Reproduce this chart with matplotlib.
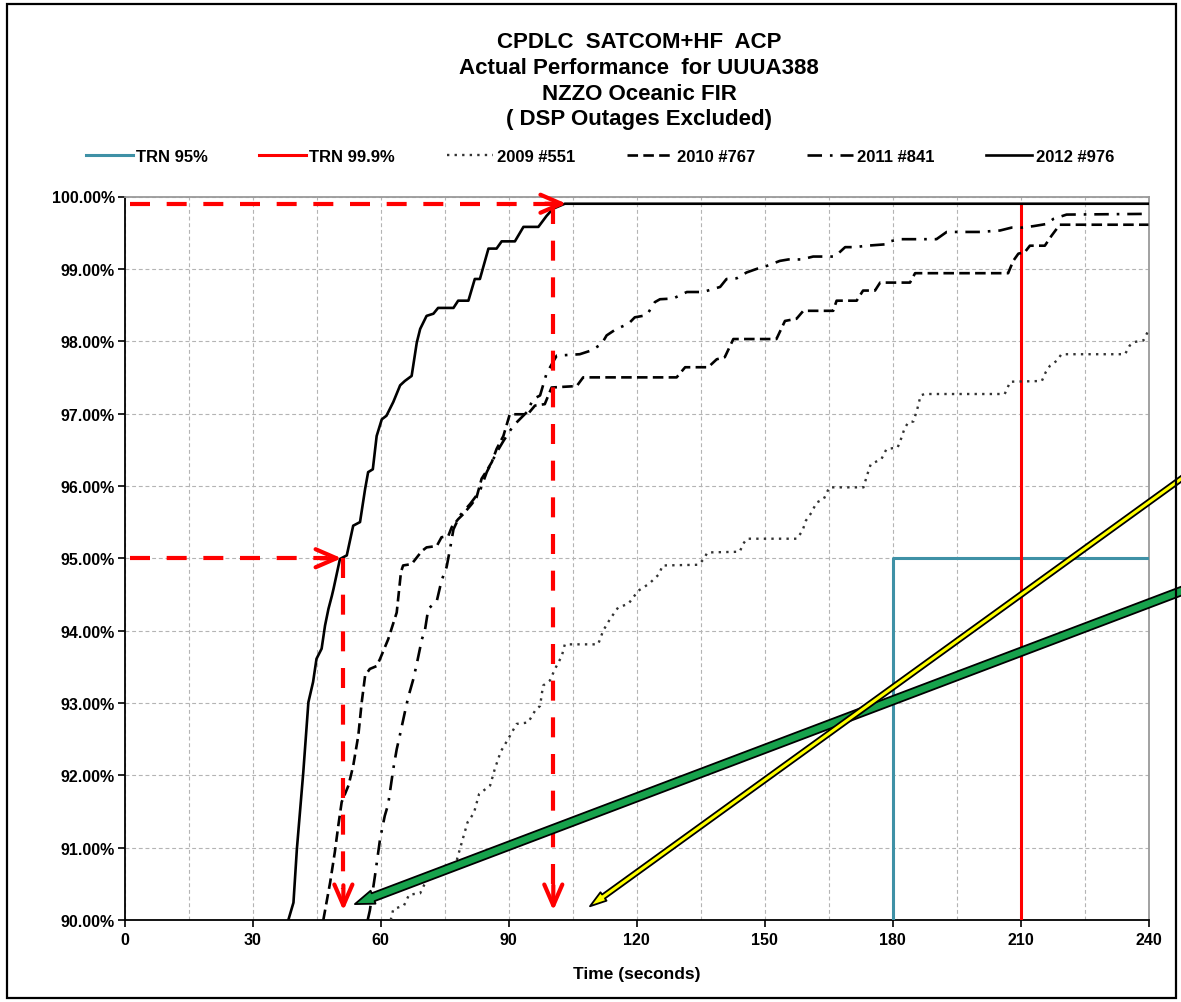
import matplotlib.pyplot as plt
from matplotlib.ticker import MultipleLocator, FuncFormatter
from matplotlib.patches import Rectangle

plt.rcParams['font.family'] = ['Liberation Sans', 'DejaVu Sans']
plt.rcParams['font.weight'] = 'bold'
plt.rcParams['axes.labelweight'] = 'bold'

title_lines = ['CPDLC  SATCOM+HF  ACP', 'Actual Performance  for UUUA388',
               'NZZO Oceanic FIR', '( DSP Outages Excluded)']

# time (seconds) / cumulative percentage of messages delivered
t2009 = [62.4, 63.0, 65.5, 66.7, 69.3, 70.2, 72.8, 74.7, 77.7, 78.8, 80.4, 81.9, 83.1, 85.7, 86.8,
         88.2, 89.9, 91.9, 94.6, 96.2, 97.4, 98.1, 99.7, 100.9, 102.5, 103.2, 111.0, 112.2, 113.8,
         115.7, 118.1, 120.4, 123.0, 125.3, 126.1, 134.5, 135.8, 136.6, 144.2, 145.0, 145.9, 157.6,
         158.9, 159.7, 161.0, 162.2, 163.9, 165.2, 173.2, 174.0, 174.9, 177.4, 178.6, 181.2, 182.0,
         182.8, 183.7, 184.9, 185.8, 186.6, 187.5, 206.3, 207.6, 215.0, 215.9, 216.9, 218.5, 219.6,
         234.5, 235.6, 236.8, 238.8, 240.0]
p2009 = [90.0, 90.15, 90.20, 90.35, 90.37, 90.48, 90.68, 90.74, 90.79, 91.02, 91.35, 91.48, 91.74,
         91.86, 92.09, 92.33, 92.50, 92.71, 92.73, 92.89, 92.96, 93.24, 93.31, 93.47, 93.65, 93.81,
         93.81, 94.00, 94.16, 94.32, 94.37, 94.55, 94.65, 94.78, 94.90, 94.91, 94.99, 95.08, 95.09,
         95.20, 95.27, 95.27, 95.38, 95.52, 95.63, 95.77, 95.82, 95.98, 95.98, 96.14, 96.30, 96.37,
         96.51, 96.53, 96.65, 96.79, 96.88, 96.89, 97.06, 97.25, 97.27, 97.27, 97.44, 97.45, 97.57,
         97.66, 97.73, 97.82, 97.82, 97.94, 97.99, 98.01, 98.15]

t2010 = [46.6, 48.2, 49.3, 50.1, 50.9, 52.5, 53.6, 54.8, 55.6, 56.4, 57.5, 59.1, 59.9, 61.8, 63.8,
         64.8, 65.3, 67.3, 68.9, 69.7, 70.8, 73.2, 74.3, 75.9, 76.7, 78.2, 79.4, 81.4, 82.5, 83.7,
         84.9, 86.1, 87.2, 88.8, 90.3, 94.5, 96.2, 98.5, 100.1, 106.0, 107.5, 129.4, 131.4, 136.8,
         138.8, 140.7, 142.7, 152.8, 154.8, 157.5, 159.1, 166.1, 166.9, 171.6, 173.1, 175.9, 177.1,
         184.1, 185.3, 207.1, 208.3, 209.5, 211.0, 212.2, 215.7, 217.3, 219.2, 240.0]
p2010 = [90.0, 90.52, 90.94, 91.30, 91.63, 91.86, 92.13, 92.55, 93.01, 93.38, 93.47, 93.51, 93.61,
         93.88, 94.25, 94.81, 94.90, 94.92, 95.04, 95.10, 95.15, 95.17, 95.29, 95.31, 95.43, 95.54,
         95.61, 95.75, 95.84, 96.10, 96.21, 96.33, 96.51, 96.69, 96.99, 96.99, 97.11, 97.13, 97.36,
         97.38, 97.50, 97.50, 97.64, 97.64, 97.75, 97.78, 98.03, 98.03, 98.28, 98.31, 98.42, 98.42,
         98.56, 98.56, 98.70, 98.70, 98.81, 98.81, 98.94, 98.94, 99.11, 99.21, 99.23, 99.32, 99.32,
         99.46, 99.61, 99.61]

t2011 = [57.0, 57.5, 58.7, 59.9, 61.0, 61.8, 63.0, 63.8, 64.6, 65.7, 66.5, 67.7, 68.5, 69.7, 70.4,
         71.2, 73.2, 74.3, 75.5, 76.3, 77.1, 78.6, 81.0, 83.3, 84.9, 87.2, 88.8, 91.1, 94.3, 95.8,
         97.4, 98.9, 100.5, 101.3, 106.7, 109.3, 111.8, 113.0, 115.3, 118.1, 119.6, 122.4, 124.3,
         125.5, 128.6, 131.8, 135.6, 139.6, 141.1, 143.5, 145.8, 148.2, 150.5, 153.6, 155.6, 158.7,
         161.4, 166.5, 168.9, 171.2, 174.0, 178.6, 179.4, 181.7, 190.3, 192.7, 200.5, 205.2, 207.9,
         210.3, 213.0, 216.1, 217.7, 220.8, 240.0]
p2011 = [90.0, 90.13, 90.61, 91.12, 91.44, 91.60, 92.09, 92.36, 92.57, 92.87, 93.08, 93.33, 93.54,
         93.88, 94.00, 94.30, 94.41, 94.69, 94.88, 95.13, 95.40, 95.59, 95.75, 95.93, 96.19, 96.46,
         96.62, 96.83, 97.02, 97.20, 97.25, 97.55, 97.72, 97.80, 97.82, 97.87, 97.96, 98.08, 98.17,
         98.24, 98.33, 98.36, 98.54, 98.58, 98.59, 98.68, 98.68, 98.75, 98.86, 98.87, 98.95, 99.00,
         99.04, 99.11, 99.13, 99.13, 99.17, 99.17, 99.30, 99.30, 99.32, 99.34, 99.38, 99.41, 99.41,
         99.51, 99.51, 99.53, 99.57, 99.57, 99.59, 99.62, 99.69, 99.75, 99.76]

t2012 = [38.4, 39.6, 40.4, 41.9, 43.1, 44.2, 45.0, 46.2, 47.0, 47.8, 48.6, 49.0, 50.5, 52.1, 53.6,
         55.2, 56.4, 57.1, 58.2, 59.1, 60.3, 61.4, 63.0, 64.6, 65.7, 67.3, 68.5, 69.3, 70.8, 72.4,
         73.5, 77.1, 78.2, 80.6, 82.1, 83.3, 85.3, 87.2, 88.4, 91.5, 93.5, 97.0, 98.9, 100.4, 103.2,
         240.0]
p2012 = [90.0, 90.24, 90.98, 92.04, 93.01, 93.29, 93.61, 93.75, 94.07, 94.30, 94.48, 94.58, 94.99,
         95.04, 95.45, 95.50, 95.96, 96.19, 96.23, 96.69, 96.92, 96.97, 97.16, 97.39, 97.45, 97.52,
         97.98, 98.17, 98.35, 98.38, 98.46, 98.46, 98.56, 98.56, 98.86, 98.86, 99.28, 99.28, 99.38,
         99.38, 99.58, 99.58, 99.73, 99.83, 99.90, 99.90]

# required performance (TRN)
trn95_t = [180, 180, 240]
trn95_p = [90, 95, 95]
trn999_t = [210, 210]
trn999_p = [90, 99.9]

# red guide arrows: level, time where the 2012 curve reaches it, tip of the horizontal arrow
guide_p = [95.0, 99.9]
guide_t = [51.3, 100.5]
guide_tip = [50.9, 103.6]
guide_start = 1.3
guide_floor = 90.13

# highlight arrows (tips in data, tails at the right edge of the figure)
green_tip = (54.0, 90.22)
green_tail = (1.01, 0.414)
yellow_tip = (109.1, 90.19)
yellow_tail = (1.01, 0.530)

fig = plt.figure(figsize=(11.81, 10.03), dpi=100)
W, H = 1181, 1003
ax = fig.add_axes([124.5 / W, 1 - 921 / H, 1024 / W, 723.5 / H])

ax.plot(trn95_t, trn95_p, color='#3f91a6', lw=2.2, label='TRN 95%', zorder=3)
ax.plot(trn999_t, trn999_p, color='red', lw=2.2, label='TRN 99.9%', zorder=3)
ax.plot(t2009, p2009, color='#333333', lw=1.7, linestyle=(0, (1, 2.2)), label='2009 #551', zorder=4)
ax.plot(t2010, p2010, color='black', lw=1.9, linestyle=(0, (4, 2)), label='2010 #767', zorder=4)
ax.plot(t2011, p2011, color='black', lw=1.9, linestyle=(0, (5.5, 3, 1, 3)), label='2011 #841', zorder=4)
ax.plot(t2012, p2012, color='black', lw=1.9, label='2012 #976', zorder=4)

# red dashed guides
red_dash = (0, (4.8, 4.0))
head = dict(arrowstyle='->,head_length=1.5,head_width=0.65', lw=3, color='red',
            mutation_scale=10, shrinkA=0, shrinkB=0)
for lvl, tv, tip in zip(guide_p, guide_t, guide_tip):
    ax.plot([guide_start, tip - 3.5], [lvl, lvl], color='red', lw=3, linestyle=red_dash, zorder=6)
    ax.annotate('', xy=(tip, lvl), xytext=(tip - 5, lvl), arrowprops=head, zorder=6)
    ax.plot([tv, tv], [lvl, guide_floor + 0.3], color='red', lw=3, linestyle=red_dash, zorder=6)
    ax.annotate('', xy=(tv, guide_floor), xytext=(tv, guide_floor + 0.35), arrowprops=head, zorder=6)

ax.annotate('', xy=green_tip, xycoords='data', xytext=green_tail, textcoords='figure fraction',
            arrowprops=dict(arrowstyle='simple,head_length=1.4,head_width=1.0,tail_width=0.6',
                            fc='#17a24c', ec='black', lw=1.3, mutation_scale=10, shrinkA=0, shrinkB=0),
            annotation_clip=False, zorder=10)
ax.annotate('', xy=yellow_tip, xycoords='data', xytext=yellow_tail, textcoords='figure fraction',
            arrowprops=dict(arrowstyle='simple,head_length=1.2,head_width=0.75,tail_width=0.35',
                            fc='#ffff00', ec='black', lw=1.3, mutation_scale=10, shrinkA=0, shrinkB=0),
            annotation_clip=False, zorder=10)

ax.set_xlim(0, 240)
ax.set_ylim(90, 100)
ax.xaxis.set_major_locator(MultipleLocator(30))
ax.xaxis.set_minor_locator(MultipleLocator(15))
ax.yaxis.set_major_locator(MultipleLocator(1))
ax.yaxis.set_major_formatter(FuncFormatter(lambda v, _: f'{v:.2f}%'))
ax.grid(True, which='both', color='#b4b4b4', lw=0.8, linestyle=(0, (3.5, 2.5)))
ax.tick_params(which='major', direction='out', length=5, width=1.2, labelsize=11.5, pad=2)
ax.tick_params(axis='x', pad=4)
ax.tick_params(which='minor', length=0)
for s in ['top', 'right']:
    ax.spines[s].set_color('#9a9a9a')
    ax.spines[s].set_linewidth(1.3)
for s in ['left', 'bottom']:
    ax.spines[s].set_linewidth(1.3)
ax.set_xlabel('Time (seconds)', fontsize=12.5, labelpad=13)

for i, line in enumerate(title_lines):
    fig.text(639 / W, 1 - (42 + 26 * i) / H, line, ha='center', va='center',
             fontsize=16, fontweight='bold')

ax.legend(loc='center', bbox_to_anchor=(600 / W, 1 - 157 / H), bbox_transform=fig.transFigure,
          ncol=6, frameon=False, fontsize=12, handlelength=2.8, handletextpad=0.2,
          columnspacing=3.1)

fig.patches.append(Rectangle((7 / W, 4 / H), 1169 / W, 994 / H, transform=fig.transFigure,
                             fill=False, ec='black', lw=1.6))

fig.savefig('out.png', dpi=100)
